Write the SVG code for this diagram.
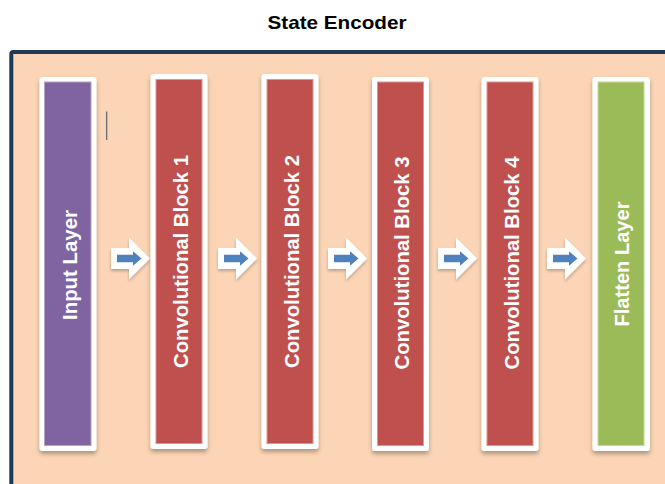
<svg xmlns="http://www.w3.org/2000/svg" width="665" height="484" viewBox="0 0 665 484">
  <defs>
    <style>
      .title { font-family: "Liberation Sans", Arial, sans-serif; font-weight: bold; font-size: 19px; fill: #000; }
      .lbl { font-family: "Liberation Sans", Arial, sans-serif; font-weight: bold; font-size: 20px; fill: #fff; }
      .card { fill: #fff; filter: url(#shadow); }
      .purple { fill: #8064a2; stroke: #b3a2c7; stroke-width: 1; }
      .red { fill: #c0504d; stroke: #d99694; stroke-width: 1; }
      .green { fill: #9bbb59; stroke: #c3d69b; stroke-width: 1; }
      .arrow-out { fill: #fff; filter: url(#shadow2); }
      .arrow-in { fill: #4f81bd; }
    </style>
    <filter id="shadow" x="-30%" y="-10%" width="160%" height="120%">
      <feDropShadow dx="0" dy="3" stdDeviation="2" flood-color="#000" flood-opacity="0.3"/>
    </filter>
    <filter id="shadow2" x="-30%" y="-30%" width="160%" height="160%">
      <feDropShadow dx="0" dy="2" stdDeviation="1.5" flood-color="#000" flood-opacity="0.25"/>
    </filter>
    <g id="arrow">
      <path class="arrow-out" d="M0,-10.5 L18,-10.5 L18,-21 L39,0 L18,21 L18,10.5 L0,10.5 Z"/>
      <path class="arrow-in" d="M6,-3.75 L22,-3.75 L22,-7.25 L30.5,0 L22,7.25 L22,3.75 L6,3.75 Z"/>
    </g>
  </defs>

  <rect x="0" y="0" width="665" height="484" fill="#fff"/>
  <text class="title" x="337" y="29" text-anchor="middle" textLength="139" lengthAdjust="spacingAndGlyphs">State Encoder</text>

  <g id="encoder-frame">
    <rect x="11.3" y="52" width="680" height="460" rx="2" fill="#fbd5b5" stroke="#1f3a57" stroke-width="4"/>
    <line x1="106.7" y1="111.5" x2="106.7" y2="140" stroke="#5a6470" stroke-width="1.2"/>
  </g>

  <g id="input-layer">
    <rect class="card" x="39.5" y="77" width="57" height="374" rx="3"/>
    <rect class="purple" x="44.5" y="82" width="46.5" height="363.5"/>
    <text class="lbl" transform="translate(76.5,265) rotate(-90)" text-anchor="middle" textLength="110" lengthAdjust="spacingAndGlyphs">Input Layer</text>
  </g>

  <g id="conv-block-1">
    <rect class="card" x="150.5" y="74" width="57" height="375" rx="3"/>
    <rect class="red" x="156" y="79.5" width="46" height="364"/>
    <text class="lbl" transform="translate(187.5,261.5) rotate(-90)" text-anchor="middle" textLength="213" lengthAdjust="spacingAndGlyphs">Convolutional Block 1</text>
  </g>

  <g id="conv-block-2">
    <rect class="card" x="261.5" y="74" width="57" height="375" rx="3"/>
    <rect class="red" x="267" y="79.5" width="46" height="364"/>
    <text class="lbl" transform="translate(298.5,261.5) rotate(-90)" text-anchor="middle" textLength="213" lengthAdjust="spacingAndGlyphs">Convolutional Block 2</text>
  </g>

  <g id="conv-block-3">
    <rect class="card" x="372" y="77" width="57" height="374" rx="3"/>
    <rect class="red" x="377.5" y="82" width="46" height="363.5"/>
    <text class="lbl" transform="translate(409,263) rotate(-90)" text-anchor="middle" textLength="213" lengthAdjust="spacingAndGlyphs">Convolutional Block 3</text>
  </g>

  <g id="conv-block-4">
    <rect class="card" x="481.5" y="77" width="57" height="374" rx="3"/>
    <rect class="red" x="487" y="82" width="46" height="363.5"/>
    <text class="lbl" transform="translate(518.5,263) rotate(-90)" text-anchor="middle" textLength="213" lengthAdjust="spacingAndGlyphs">Convolutional Block 4</text>
  </g>

  <g id="flatten-layer">
    <rect class="card" x="592.5" y="77" width="57.5" height="374" rx="3"/>
    <rect class="green" x="598" y="82" width="46" height="363.5"/>
    <text class="lbl" transform="translate(628.5,264) rotate(-90)" text-anchor="middle" textLength="125" lengthAdjust="spacingAndGlyphs">Flatten Layer</text>
  </g>

  <g id="connectors">
    <use href="#arrow" transform="translate(111,258.5)"/>
    <use href="#arrow" transform="translate(218,258.5)"/>
    <use href="#arrow" transform="translate(328,258.5)"/>
    <use href="#arrow" transform="translate(438,258.5)"/>
    <use href="#arrow" transform="translate(547,258.5)"/>
  </g>
</svg>
